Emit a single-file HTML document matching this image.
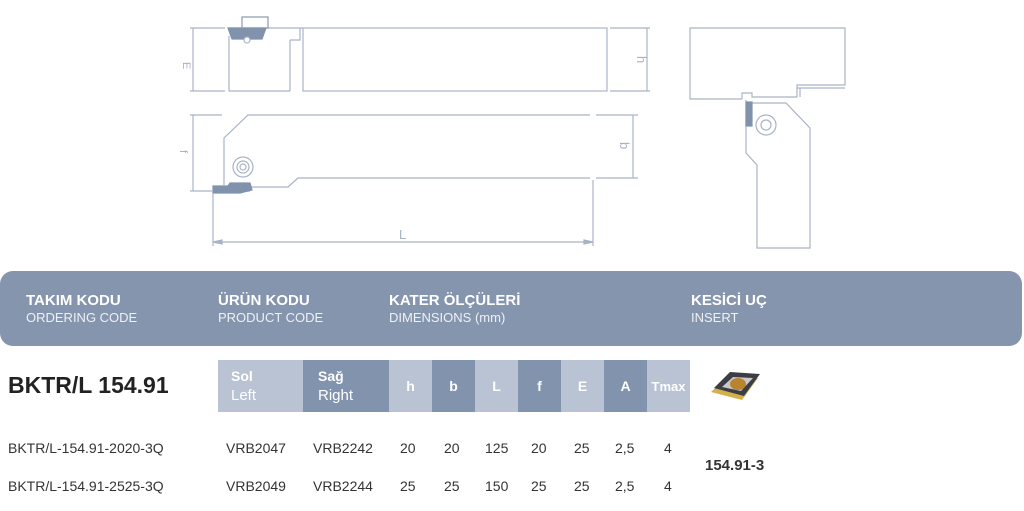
<!DOCTYPE html>
<html><head><meta charset="utf-8"><style>
body{margin:0;width:1024px;height:511px;background:#fff;position:relative;overflow:hidden;font-family:"Liberation Sans",sans-serif;}
.a{position:absolute;}
.hdr{left:0;top:271px;width:1022px;height:75px;background:#8595ae;border-radius:13px;}
.ht{position:absolute;color:#fff;font-size:15px;font-weight:bold;line-height:17px;}
.ht span{display:block;font-weight:normal;font-size:13px;color:#eef1f6;}
.c{position:absolute;top:360px;height:52px;color:#fff;font-weight:bold;font-size:14px;display:flex;align-items:center;justify-content:center;}
.lt{background:#b9c3d3}.dk{background:#8293ad}
.v{position:absolute;font-size:14px;color:#333;}
.two{flex-direction:column;align-items:flex-start;justify-content:center;box-sizing:border-box;line-height:19px;}
</style></head><body>
<svg class="a" style="left:0;top:0" width="1024" height="260" fill="none" stroke="#a9b3c7" stroke-width="1.2">
<rect x="303" y="28" width="304" height="63"/>
<polyline points="229,36 229,91 290,91"/>
<line x1="290" y1="40" x2="290" y2="91"/>
<polyline points="228,28 303,28"/>
<polyline points="290,40 300,40 300,28"/>
<polygon points="228,28 266,28 262,39 232,39" fill="#8192ad" stroke="#8192ad"/>
<rect x="242" y="17" width="26" height="11" stroke="#8a98b0"/>
<circle cx="247" cy="40" r="3" fill="#fff"/>
<line x1="193" y1="28" x2="193" y2="91"/><line x1="190" y1="28" x2="225" y2="28"/><line x1="190" y1="91" x2="225" y2="91"/>
<line x1="647" y1="28" x2="647" y2="91"/><line x1="610" y1="28" x2="650" y2="28"/><line x1="610" y1="91" x2="650" y2="91"/>
<polyline points="590,115 248,115 224,138 224,185"/>
<polyline points="596,115 638,115"/>
<polyline points="590,178 298,178 288,187 250,187"/>
<line x1="213" y1="191" x2="250" y2="191"/>
<circle cx="243" cy="167" r="10"/><circle cx="243" cy="167" r="6"/><circle cx="243" cy="167" r="3"/>
<polygon points="213,186 228,186 230,183 250,183 252,190 240,193 213,193" fill="#8192ad" stroke="#8192ad"/>
<line x1="193" y1="115" x2="193" y2="191"/><line x1="190" y1="115" x2="222" y2="115"/><line x1="190" y1="191" x2="212" y2="191"/>
<line x1="633" y1="115" x2="633" y2="178"/><line x1="596" y1="178" x2="638" y2="178"/>
<line x1="213" y1="193" x2="213" y2="246"/><line x1="593" y1="180" x2="593" y2="246"/>
<line x1="213" y1="242" x2="593" y2="242"/>
<polygon points="213,242 222,240 222,244" fill="#a9b3c7"/><polygon points="593,242 584,240 584,244" fill="#a9b3c7"/>
<polyline points="742,99 690,99 690,28 845,28 845,85 797,85 797,97 752,97 752,93 742,93 742,99"/>
<line x1="797" y1="88" x2="845" y2="88"/><line x1="800" y1="88" x2="800" y2="97"/>
<polyline points="752,103 786,103 810,128 810,248 757,248 757,165 746,153 746,100"/>
<circle cx="766" cy="125" r="10"/><circle cx="766" cy="125" r="5"/>
<rect x="746" y="102" width="6" height="24" fill="#8192ad" stroke="#8192ad"/>
<g fill="#a9b3c7" stroke="none" font-family="Liberation Sans" font-size="11">
<text x="183" y="62" transform="rotate(90 183 62)">E</text>
<text x="637" y="56" transform="rotate(90 637 56)" font-size="13">h</text>
<text x="180" y="150" transform="rotate(90 180 150)">f</text>
<text x="620" y="142" transform="rotate(90 620 142)" font-size="13">b</text>
<text x="399" y="239" font-size="13">L</text>
</g>
</svg>
<div class="a hdr">
<div class="ht" style="left:26px;top:21px">TAKIM KODU<span>ORDERING CODE</span></div>
<div class="ht" style="left:218px;top:21px">ÜRÜN KODU<span>PRODUCT CODE</span></div>
<div class="ht" style="left:389px;top:21px">KATER ÖLÇÜLERİ<span>DIMENSIONS (mm)</span></div>
<div class="ht" style="left:691px;top:21px">KESİCİ UÇ<span>INSERT</span></div>
</div>
<div class="a" style="left:8px;top:372px;font-size:23px;font-weight:bold;color:#222">BKTR/L 154.91</div>
<div class="c lt two" style="left:218px;width:85px;padding-left:13px;"><div>Sol</div><div style="font-weight:normal;font-size:15px">Left</div></div>
<div class="c dk two" style="left:303px;width:86px;padding-left:15px;"><div>Sağ</div><div style="font-weight:normal;font-size:15px">Right</div></div>
<div class="c lt" style="left:389px;width:43px">h</div>
<div class="c dk" style="left:432px;width:43px">b</div>
<div class="c lt" style="left:475px;width:43px">L</div>
<div class="c dk" style="left:518px;width:43px">f</div>
<div class="c lt" style="left:561px;width:43px">E</div>
<div class="c dk" style="left:604px;width:43px">A</div>
<div class="c lt" style="left:647px;width:43px;font-size:13px">Tmax</div>
<svg class="a" style="left:708px;top:368px" width="58" height="40"><polygon points="3,24 20,8 50,10 34,32" fill="#d4b04a"/><polygon points="6,20 22,4 52,6 36,28" fill="#3d3d45"/><polygon points="14,19 25,9 45,10 33,23" fill="#c9c9c9"/><ellipse cx="30" cy="16" rx="8" ry="6" fill="#b8842e"/></svg>
<div class="v" style="left:8px;top:440px">BKTR/L-154.91-2020-3Q</div>
<div class="v" style="left:8px;top:478px">BKTR/L-154.91-2525-3Q</div>
<div class="v" style="left:226px;top:440px">VRB2047</div><div class="v" style="left:313px;top:440px">VRB2242</div>
<div class="v" style="left:226px;top:478px">VRB2049</div><div class="v" style="left:313px;top:478px">VRB2244</div>
<div class="v" style="left:400px;top:440px">20</div><div class="v" style="left:444px;top:440px">20</div><div class="v" style="left:485px;top:440px">125</div><div class="v" style="left:531px;top:440px">20</div><div class="v" style="left:574px;top:440px">25</div><div class="v" style="left:615px;top:440px">2,5</div><div class="v" style="left:664px;top:440px">4</div>
<div class="v" style="left:400px;top:478px">25</div><div class="v" style="left:444px;top:478px">25</div><div class="v" style="left:485px;top:478px">150</div><div class="v" style="left:531px;top:478px">25</div><div class="v" style="left:574px;top:478px">25</div><div class="v" style="left:615px;top:478px">2,5</div><div class="v" style="left:664px;top:478px">4</div>
<div class="v" style="left:705px;top:457px;font-weight:bold;font-size:15px">154.91-3</div>
</body></html>
